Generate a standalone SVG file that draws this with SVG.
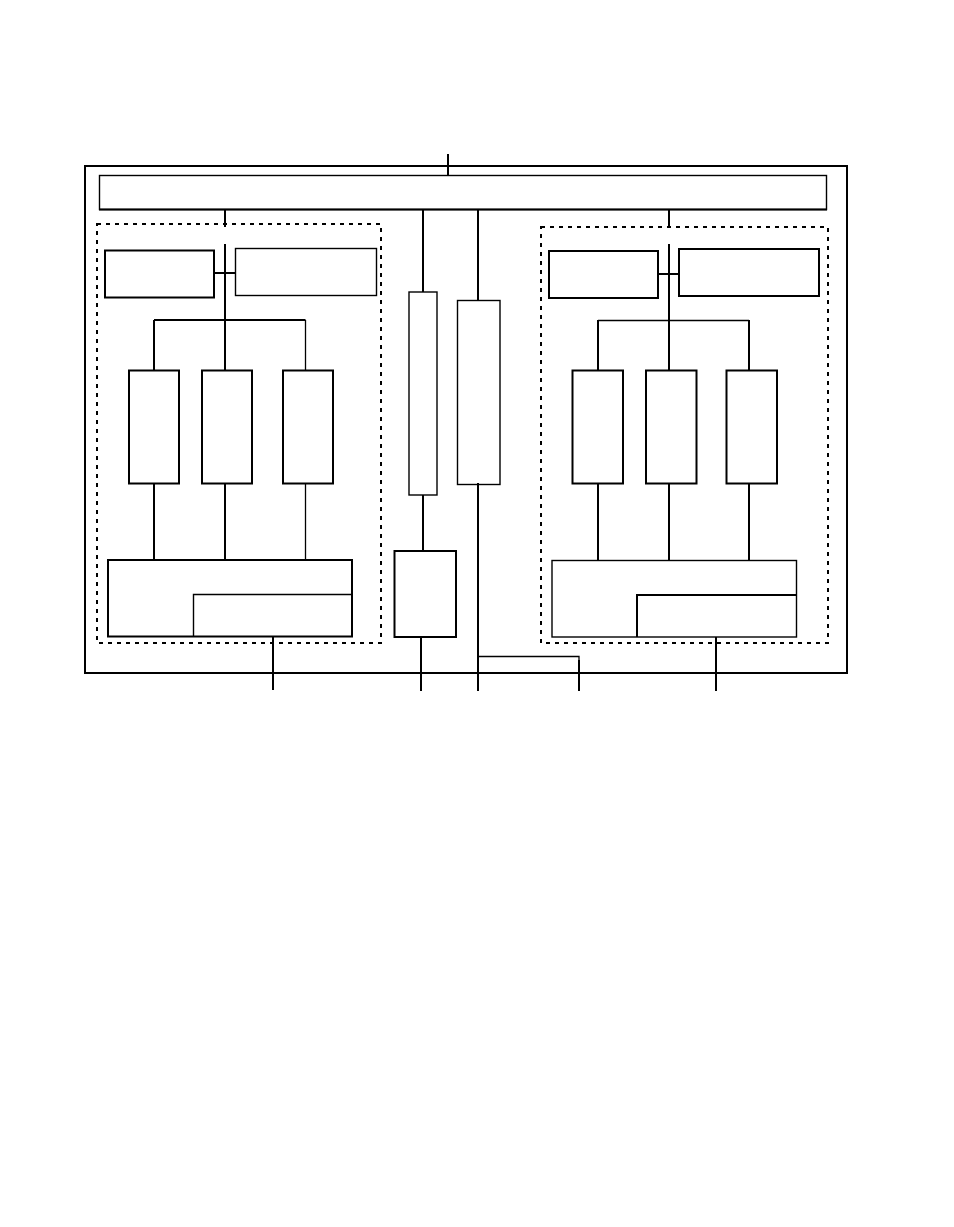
<svg xmlns="http://www.w3.org/2000/svg" width="954" height="1227" viewBox="0 0 954 1227">
<style>
.b{fill:none;stroke:#000;stroke-width:2}
.t{fill:none;stroke:#000;stroke-width:1.4}
.d{fill:none;stroke:#000;stroke-width:2;stroke-dasharray:4 5}
.c{fill:none;stroke:#000;stroke-width:2}
.ct{fill:none;stroke:#000;stroke-width:1.3}
</style>
<rect width="954" height="1227" fill="#fff"/>
<g id="outer"><rect class="b" x="85" y="166" width="762" height="507"/></g>
<g id="topbar"><rect class="t" x="99.5" y="175.5" width="727" height="34"/><line class="b" x1="99" y1="209.5" x2="827" y2="209.5"/></g>
<g id="leftgroup"><rect class="d" x="97" y="224" width="284" height="419"/></g>
<g id="rightgroup"><rect class="d" x="541" y="227" width="287" height="416"/></g>
<g id="L1"><rect class="b" x="105" y="250.5" width="109" height="47"/></g>
<g id="L2"><rect class="t" x="235.5" y="248.5" width="141" height="47"/></g>
<g id="LA"><rect class="b" x="129" y="370.5" width="50" height="113"/></g>
<g id="LB"><rect class="b" x="202" y="370.5" width="50" height="113"/></g>
<g id="LC"><rect class="b" x="283" y="370.5" width="50" height="113"/></g>
<g id="LBot"><rect class="b" x="108" y="560" width="244" height="76.5"/><path class="t" d="M193.5 636.5V594.5H352"/></g>
<g id="M1"><rect class="t" x="409" y="292" width="28" height="203"/></g>
<g id="M2"><rect class="t" x="457.5" y="300.5" width="42.5" height="184"/></g>
<g id="M3"><rect class="b" x="394.5" y="551" width="61.5" height="86"/></g>
<g id="R1"><rect class="b" x="549" y="251" width="109" height="47"/></g>
<g id="R2"><rect class="b" x="679" y="249" width="140" height="47"/></g>
<g id="RA"><rect class="b" x="572.5" y="370.5" width="50.5" height="113"/></g>
<g id="RB"><rect class="b" x="646" y="370.5" width="50.5" height="113"/></g>
<g id="RC"><rect class="b" x="726.5" y="370.5" width="50.5" height="113"/></g>
<g id="RBot"><rect class="t" x="552" y="560.5" width="244.5" height="76.5"/><path class="b" d="M637 637V595H796"/></g>
<g id="connectors">
<line class="c" x1="448" y1="154" x2="448" y2="175"/>
<line class="c" x1="225" y1="210" x2="225" y2="227"/>
<line class="c" x1="225" y1="244" x2="225" y2="370"/>
<line class="c" x1="225" y1="484" x2="225" y2="560"/>
<line class="c" x1="214" y1="273" x2="235" y2="273"/>
<line class="c" x1="154" y1="320" x2="305.5" y2="320"/>
<line class="c" x1="154" y1="320" x2="154" y2="370"/>
<line class="ct" x1="305.5" y1="320" x2="305.5" y2="370"/>
<line class="c" x1="154" y1="484" x2="154" y2="560"/>
<line class="ct" x1="305.5" y1="484" x2="305.5" y2="560"/>
<line class="c" x1="273" y1="637" x2="273" y2="690"/>
<line class="c" x1="423" y1="210" x2="423" y2="292"/>
<line class="c" x1="423" y1="495" x2="423" y2="551"/>
<line class="c" x1="478" y1="210" x2="478" y2="300"/>
<line class="c" x1="421" y1="637" x2="421" y2="691"/>
<line class="c" x1="478" y1="483" x2="478" y2="691"/>
<path class="ct" d="M478 656.5H579V691"/>
<line class="c" x1="579" y1="660" x2="579" y2="691"/>
<line class="c" x1="669" y1="210" x2="669" y2="227"/>
<line class="c" x1="669" y1="244" x2="669" y2="370"/>
<line class="c" x1="669" y1="484" x2="669" y2="560"/>
<line class="c" x1="658" y1="274" x2="679" y2="274"/>
<line class="ct" x1="598" y1="320.5" x2="749" y2="320.5"/>
<line class="c" x1="598" y1="320" x2="598" y2="370"/>
<line class="c" x1="749" y1="320" x2="749" y2="370"/>
<line class="c" x1="598" y1="484" x2="598" y2="560"/>
<line class="c" x1="749" y1="484" x2="749" y2="560"/>
<line class="c" x1="716" y1="637" x2="716" y2="691"/>
</g>
</svg>
